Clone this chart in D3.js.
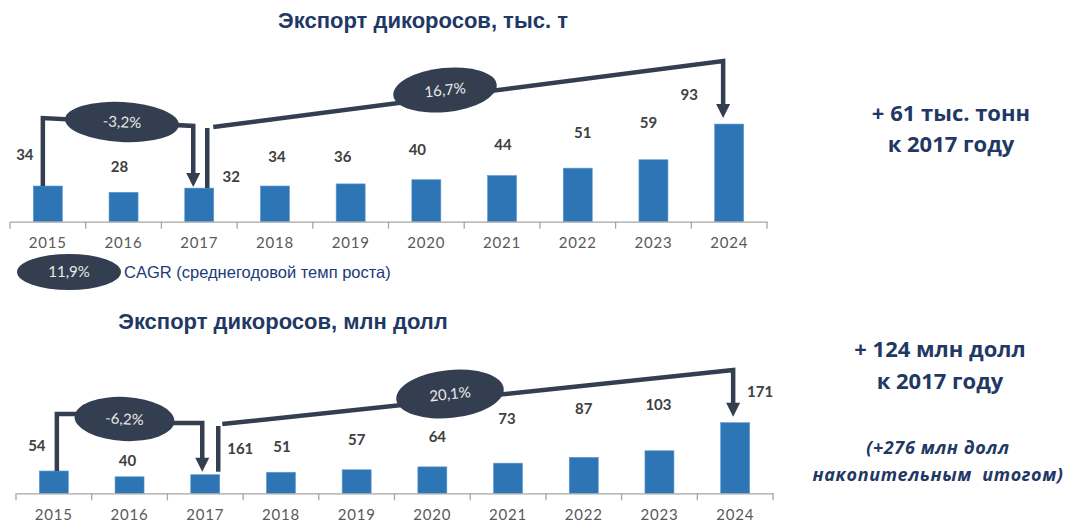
<!DOCTYPE html>
<html>
<head>
<meta charset="utf-8">
<script src="https://cdn.jsdelivr.net/npm/d3@7"></script>
<style>
  html, body { margin: 0; padding: 0; background: #ffffff; }
  svg { display: block; }
</style>
</head>
<body>
<svg id="chart" width="1080" height="532"></svg>
<script>
// ---------------- DATA ----------------
const years = ["2015", "2016", "2017", "2018", "2019", "2020", "2021", "2022", "2023", "2024"];
const tonnesValues = [34, 28, 32, 34, 36, 40, 44, 51, 59, 93];
const tonnesLabels = ["34", "28", "32", "34", "36", "40", "44", "51", "59", "93"];
const usdValues = [54, 40, 45, 51, 57, 64, 73, 87, 103, 171];
const usdLabels = ["54", "40", "161", "51", "57", "64", "73", "87", "103", "171"];
const tonnesCagr = ["-3,2%", "16,7%"];
const usdCagr = ["-6,2%", "20,1%"];
const legendCagr = "11,9%";
const legendText = "CAGR (среднегодовой темп роста)";
const titles = ["Экспорт дикоросов, тыс. т", "Экспорт дикоросов, млн долл"];
const noteTonnes = ["+ 61 тыс. тонн", "к 2017 году"];
const noteUsd = ["+ 124 млн долл", "к 2017 году"];
const noteUsdCum = ["(+276 млн долл", "накопительным  итогом)"];

// ---------------- LAYOUT (label nudges, not data) ----------------
const tonnesNudge = [[-23, -31], [-4, -26], [32, -11], [2, -29], [-8, -27], [-9, -30], [1, -31], [5, -35], [-5, -37], [-40, -29]];
const usdNudge = [[-17, -25], [-2, -16], [35, -26], [1, -25], [0, -30], [5, -30], [-1, -44], [0, -49], [-1, -46], [25, -31]];

const NAVY = "#1F3864";
const BAR = "#2E75B6";
const CONN = "#333F50";
const svg = d3.select("#chart");

function panel(opt) {
  const band = d3.scaleBand().domain(years).range([opt.x0, opt.x1]);
  const y = d3.scaleLinear().domain(opt.domain).range([opt.base, opt.top]);
  const g = svg.append("g");
  const cx = d => band(d) + band.bandwidth() / 2;

  // bars
  g.selectAll("rect.bar").data(opt.values).join("rect")
    .attr("class", "bar")
    .attr("x", (d, i) => cx(years[i]) - 14.5)
    .attr("width", 29)
    .attr("y", d => y(d))
    .attr("height", d => opt.base - y(d))
    .attr("fill", BAR)
    .attr("stroke", "#5B9BD5").attr("stroke-width", 0.6);

  // axis
  const axis = d3.axisBottom(band).tickSize(0).tickPadding(16);
  const ag = g.append("g").attr("transform", `translate(0,${opt.base})`).call(axis);
  ag.select(".domain").attr("stroke", "#A6A6A6").attr("stroke-width", 1.3);
  ag.selectAll("text")
    .attr("font-family", "Lato, 'Open Sans', sans-serif")
    .attr("font-size", 15).attr("fill", "#595959").attr("letter-spacing", 0.8);
  const boundaries = years.map(d => band(d)).concat([opt.x1]);
  ag.selectAll("line.bt").data(boundaries).join("line")
    .attr("class", "bt")
    .attr("x1", d => d).attr("x2", d => d).attr("y1", 0).attr("y2", 7)
    .attr("stroke", "#A6A6A6").attr("stroke-width", 1.3);

  // value labels
  g.selectAll("text.val").data(opt.labels).join("text")
    .attr("class", "val")
    .attr("x", (d, i) => cx(years[i]) + opt.nudge[i][0])
    .attr("y", (d, i) => y(opt.values[i]) + opt.nudge[i][1])
    .attr("dy", "0.35em")
    .attr("text-anchor", "middle")
    .attr("font-family", "Lato, 'Open Sans', sans-serif")
    .attr("font-weight", 700).attr("font-size", 15).attr("fill", "#404040")
    .text(d => d);

  // title
  svg.append("text")
    .attr("x", opt.titleX).attr("y", opt.titleY).attr("dy", "0.35em")
    .attr("text-anchor", "middle")
    .attr("font-family", "'Liberation Sans', Arial, sans-serif")
    .attr("font-weight", 700).attr("font-size", 22).attr("fill", NAVY)
    .text(opt.title);

  return { y, cx, g };
}

function arrowHead(g, xTip, yTip) {
  g.append("path")
    .attr("d", `M${xTip - 7},${yTip - 14} L${xTip + 7},${yTip - 14} L${xTip},${yTip} Z`)
    .attr("fill", CONN);
}

function pill(g, cx, cy, rx, ry, rot, label) {
  const p = g.append("g").attr("transform", `translate(${cx},${cy}) rotate(${rot})`);
  p.append("ellipse").attr("rx", rx).attr("ry", ry).attr("fill", CONN);
  p.append("text").attr("text-anchor", "middle").attr("dy", "0.35em")
    .attr("font-family", "Lato, 'Open Sans', sans-serif")
    .attr("font-size", 15).attr("fill", "#E8E8E8").text(label);
}

function line(g, pts) {
  g.append("path").attr("d", d3.line()(pts))
    .attr("fill", "none").attr("stroke", CONN).attr("stroke-width", 4.5)
    .attr("stroke-linejoin", "miter");
}

// ---------------- TOP PANEL ----------------
const topPanel = panel({
  x0: 10, x1: 767, base: 221.7, top: 221.7 - 105, domain: [0, 100],
  values: tonnesValues, labels: tonnesLabels, nudge: tonnesNudge,
  title: titles[0], titleX: 423, titleY: 20
});
{
  const g = topPanel.g, cx = topPanel.cx, y = topPanel.y;
  const xa = cx("2015") - 5, xb = cx("2017") - 6, xc = cx("2017") + 8, xd = cx("2024") - 6;
  line(g, [[xa, y(tonnesValues[0])], [xa, 118], [xb, 126], [xb, y(tonnesValues[2]) - 14]]);
  arrowHead(g, xb, y(tonnesValues[2]) - 1);
  line(g, [[xc, y(tonnesValues[2])], [xc, 128]]);
  line(g, [[xc + 6, 127], [xd, 61], [xd, y(tonnesValues[9]) - 18]]);
  arrowHead(g, xd, y(tonnesValues[9]) - 6);
  pill(g, 122, 122, 57, 20, 3, tonnesCagr[0]);
  pill(g, 445, 90, 52, 22, -6, tonnesCagr[1]);

  // legend
  pill(svg, 69, 272, 52, 18, 0, legendCagr);
  svg.append("text").attr("x", 124).attr("y", 272).attr("dy", "0.35em")
    .attr("font-family", "'Liberation Sans', Arial, sans-serif")
    .attr("font-size", 16.5).attr("fill", "#203A78").text(legendText);
}

// ---------------- BOTTOM PANEL ----------------
const botPanel = panel({
  x0: 16, x1: 773, base: 493.3, top: 493.3 - 82.6, domain: [0, 200],
  values: usdValues, labels: usdLabels, nudge: usdNudge,
  title: titles[1], titleX: 283, titleY: 321
});
{
  const g = botPanel.g, cx = botPanel.cx, y = botPanel.y;
  const xa = cx("2015") + 3, xb = cx("2017") - 3, xc = cx("2017") + 13, xd = cx("2024") - 2;
  line(g, [[xa, y(usdValues[0])], [xa, 414], [90, 414], [160, 423], [xb, 423], [xb, y(usdValues[2]) - 14]]);
  arrowHead(g, xb, y(usdValues[2]) - 3);
  line(g, [[xc, y(usdValues[2]) - 3], [xc, 426]]);
  line(g, [[xc + 4, 424], [xd, 370], [xd, y(usdValues[9]) - 18]]);
  arrowHead(g, xd, y(usdValues[9]) - 6);
  pill(g, 124.5, 419, 50, 22, 3, usdCagr[0]);
  pill(g, 450, 394, 54, 24, -6, usdCagr[1]);
}

// ---------------- SIDE NOTES ----------------
function note(lines, xc, ys, size, italic, spacing) {
  svg.selectAll(null).data(lines).join("text")
    .attr("x", xc).attr("y", (d, i) => ys[i]).attr("dy", "0.35em")
    .attr("text-anchor", "middle")
    .attr("font-family", "'Open Sans', 'Noto Sans', sans-serif")
    .attr("font-weight", 700).attr("font-size", size)
    .attr("font-style", italic ? "italic" : "normal")
    .attr("letter-spacing", spacing)
    .style("white-space", "pre")
    .attr("fill", NAVY).text(d => d);
}
note(noteTonnes, 951, [113, 144], 22, false, 0);
note(noteUsd, 940, [349, 381], 22, false, 0);
note(noteUsdCum, 938, [448, 475], 18, true, 0.6);
</script>
</body>
</html>
